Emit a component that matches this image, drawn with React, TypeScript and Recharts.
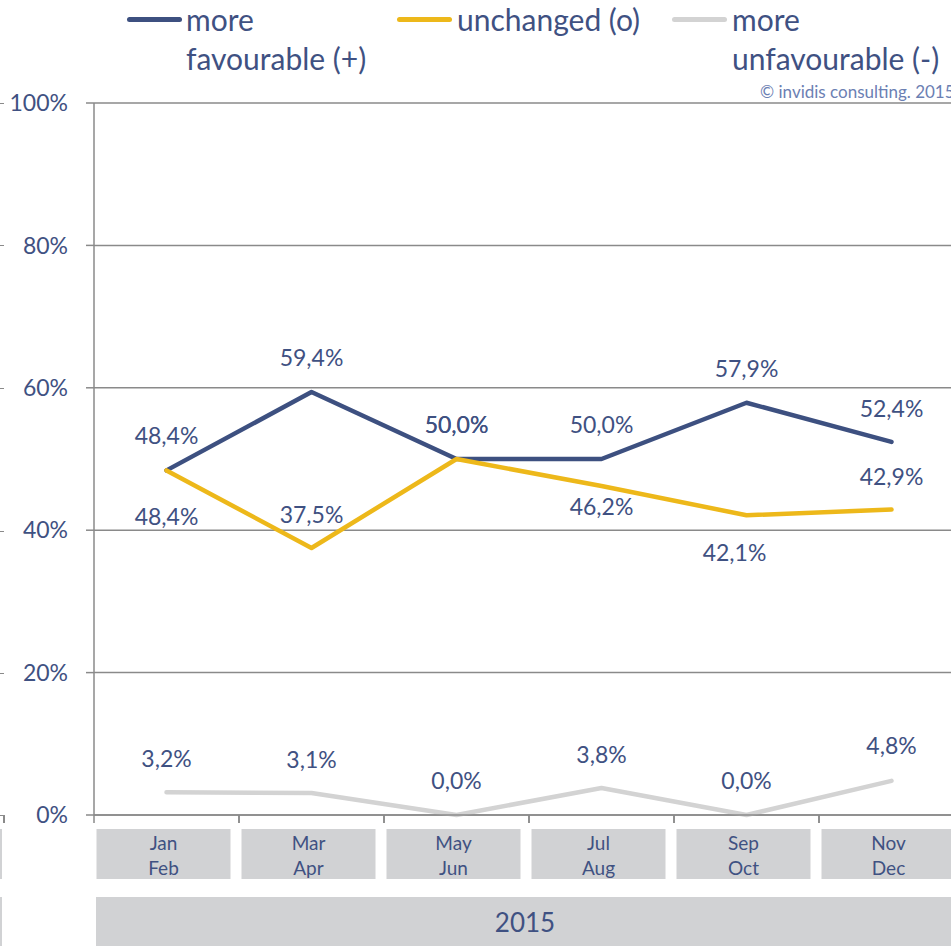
import React from 'react';
import { LineChart, Line, XAxis, YAxis, CartesianGrid, Legend, LabelList } from 'recharts';

// ---- data ----
const periods = ['Jan Feb', 'Mar Apr', 'May Jun', 'Jul Aug', 'Sep Oct', 'Nov Dec'];
const yearLabels = ['2015', '2015', '2015', '2015', '2015', '2015'];
const moreFavourable = [48.4, 59.4, 50.0, 50.0, 57.9, 52.4];
const unchanged = [48.4, 37.5, 50.0, 46.2, 42.1, 42.9];
const moreUnfavourable = [3.2, 3.1, 0.0, 3.8, 0.0, 4.8];
const yTicks = [0, 20, 40, 60, 80, 100];
const seriesKeys = ['fav', 'unch', 'unfav'];
const seriesNames = ['more favourable (+)', 'unchanged (o)', 'more unfavourable (-)'];
const copyrightText = '© invidis consulting. 2015';

const data = periods.map((p, i) => ({
  period: p,
  year: yearLabels[i],
  fav: moreFavourable[i],
  unch: unchanged[i],
  unfav: moreUnfavourable[i],
}));

// ---- styles ----
const FONT = 'Lato, "Open Sans", sans-serif';
const TEXT = '#3F5182';
const COPY = '#6B80B3';
const AXIS = '#8A8A8A';
const BOX = '#D1D2D4';
const FAV = '#3D5080';
const UNCH = '#EDB81A';
const UNFAV = '#D3D3D3';
const LABEL_SIZE = 23;

// label placement (offsets from the point, pixels)
const favLabelDy = [-34, -34, -34, -34, -34, -33];
const unchLabelDy = [47, -33, -34, 21, 38, -33];
const unchLabelDx = [0, 0, 0, 0, -12, 0];
const unfavLabelDy = [-33, -33, -34, -33, -34, -35];

const fmt = (v: number) => v.toFixed(1).replace('.', ',') + '%';

const makeLabel = (dys: number[], dxs?: number[]) => (props: any) => {
  const { x, y, value, index } = props;
  const dx = dxs ? dxs[index] : 0;
  return (
    <text
      x={x + dx}
      y={y + dys[index] + 8}
      textAnchor="middle"
      fontSize={LABEL_SIZE}
      fill={TEXT}
      fontFamily={FONT}
    >
      {fmt(Number(value))}
    </text>
  );
};

const CategoryTick = (props: any) => {
  const { x, y, payload } = props;
  const lines = String(payload.value).split(' ');
  return (
    <g>
      <line x1={x - 72.5} x2={x - 72.5} y1={y} y2={y + 8} stroke={AXIS} strokeWidth={1.5} />
      <line x1={x + 72.5} x2={x + 72.5} y1={y} y2={y + 8} stroke={AXIS} strokeWidth={1.5} />
      <rect x={x - 70} y={y + 14} width={134} height={50} fill={BOX} />
      <text x={x - 3} y={y + 35} textAnchor="middle" fontSize={19} fill={TEXT} fontFamily={FONT}>
        {lines[0]}
      </text>
      <text x={x - 3} y={y + 60} textAnchor="middle" fontSize={19} fill={TEXT} fontFamily={FONT}>
        {lines[1]}
      </text>
    </g>
  );
};

const YearTick = (props: any) => {
  const { x, y, payload } = props;
  return (
    <g>
      <rect x={x - 433} y={y + 2} width={900} height={60} fill={BOX} />
      <text x={x - 4} y={y + 37} textAnchor="middle" fontSize={26} fill={TEXT} fontFamily={FONT}>
        {payload.value}
      </text>
    </g>
  );
};

const legendLayout: Record<string, { lineX: number; textX: number; wrap: boolean }> = {
  fav: { lineX: 127, textX: 186, wrap: true },
  unch: { lineX: 397, textX: 457, wrap: false },
  unfav: { lineX: 672, textX: 732, wrap: true },
};

const renderLegend = (props: any) => {
  const payload = props.payload || [];
  return (
    <div style={{ position: 'relative', width: 951, height: 100, fontFamily: FONT }}>
      {payload.map((e: any, i: number) => {
        const l = legendLayout[String(e.dataKey)] || legendLayout[seriesKeys[i]];
        const name = String(e.value);
        const sp = name.indexOf(' ');
        const lines = l.wrap ? [name.slice(0, sp), name.slice(sp + 1)] : [name];
        return (
          <React.Fragment key={i}>
            <div
              style={{
                position: 'absolute',
                left: l.lineX,
                top: 16.5,
                width: 55,
                height: 5,
                borderRadius: 3,
                background: e.color,
              }}
            />
            <div
              style={{
                position: 'absolute',
                left: l.textX,
                top: 0,
                fontSize: 30,
                lineHeight: '39px',
                color: TEXT,
                whiteSpace: 'nowrap',
              }}
            >
              {lines.map((t, k) => (
                <div key={k}>{t}</div>
              ))}
            </div>
          </React.Fragment>
        );
      })}
      <div
        style={{
          position: 'absolute',
          left: 760,
          top: 82,
          fontSize: 17,
          lineHeight: '20px',
          color: COPY,
          whiteSpace: 'nowrap',
        }}
      >
        {copyrightText}
      </div>
    </div>
  );
};

const edgeTickYs = [103, 245, 388, 531, 673, 815];

export default function App() {
  return (
    <div
      style={{
        position: 'absolute',
        left: 0,
        top: 0,
        width: 951,
        height: 946,
        overflow: 'hidden',
        background: '#fff',
      }}
    >
      {edgeTickYs.map((yy) => (
        <div
          key={yy}
          style={{ position: 'absolute', left: 0, top: yy - 0.5, width: 4, height: 1.5, background: AXIS }}
        />
      ))}
      <div style={{ position: 'absolute', left: 3, top: 815, width: 1.5, height: 8, background: AXIS }} />
      <div style={{ position: 'absolute', left: 0, top: 829, width: 1.5, height: 50, background: BOX }} />
      <div style={{ position: 'absolute', left: 0, top: 897, width: 1.5, height: 49, background: BOX }} />
      <LineChart
        width={1000}
        height={946}
        data={data}
        margin={{ top: 103, right: 36, bottom: 0, left: 0 }}
        style={{ position: 'absolute', left: 0, top: 0 }}
      >
        <CartesianGrid vertical={false} stroke={AXIS} strokeWidth={1.5} />
        <XAxis
          dataKey="period"
          scale="band"
          height={80}
          interval={0}
          tickLine={false}
          tickSize={0}
          tickMargin={0}
          axisLine={{ stroke: AXIS, strokeWidth: 1.5 }}
          tick={<CategoryTick />}
        />
        <XAxis
          xAxisId="year"
          dataKey="year"
          scale="band"
          allowDuplicatedCategory={false}
          height={51}
          interval={0}
          tickLine={false}
          tickSize={0}
          tickMargin={0}
          axisLine={false}
          tick={<YearTick />}
        />
        <YAxis
          width={94}
          domain={[0, 100]}
          ticks={yTicks}
          interval={0}
          tickFormatter={(v) => `${v}%`}
          axisLine={{ stroke: AXIS, strokeWidth: 1.5 }}
          tickLine={{ stroke: AXIS, strokeWidth: 1.5 }}
          tickSize={8}
          tickMargin={18}
          tick={{ fill: TEXT, fontSize: 23, fontFamily: FONT }}
        />
        <Legend
          verticalAlign="middle"
          align="center"
          layout="horizontal"
          content={renderLegend}
          wrapperStyle={{ top: 0, left: 0, width: 951, height: 100 }}
        />
        <Line
          dataKey="fav"
          name={seriesNames[0]}
          stroke={FAV}
          strokeWidth={4.5}
          dot={false}
          strokeLinecap="round"
          strokeLinejoin="round"
          isAnimationActive={false}
        >
          <LabelList dataKey="fav" content={makeLabel(favLabelDy)} />
        </Line>
        <Line
          dataKey="unch"
          name={seriesNames[1]}
          stroke={UNCH}
          strokeWidth={4.5}
          dot={false}
          strokeLinecap="round"
          strokeLinejoin="round"
          isAnimationActive={false}
        >
          <LabelList dataKey="unch" content={makeLabel(unchLabelDy, unchLabelDx)} />
        </Line>
        <Line
          dataKey="unfav"
          name={seriesNames[2]}
          stroke={UNFAV}
          strokeWidth={4.5}
          dot={false}
          strokeLinecap="round"
          strokeLinejoin="round"
          isAnimationActive={false}
        >
          <LabelList dataKey="unfav" content={makeLabel(unfavLabelDy)} />
        </Line>
      </LineChart>
    </div>
  );
}
